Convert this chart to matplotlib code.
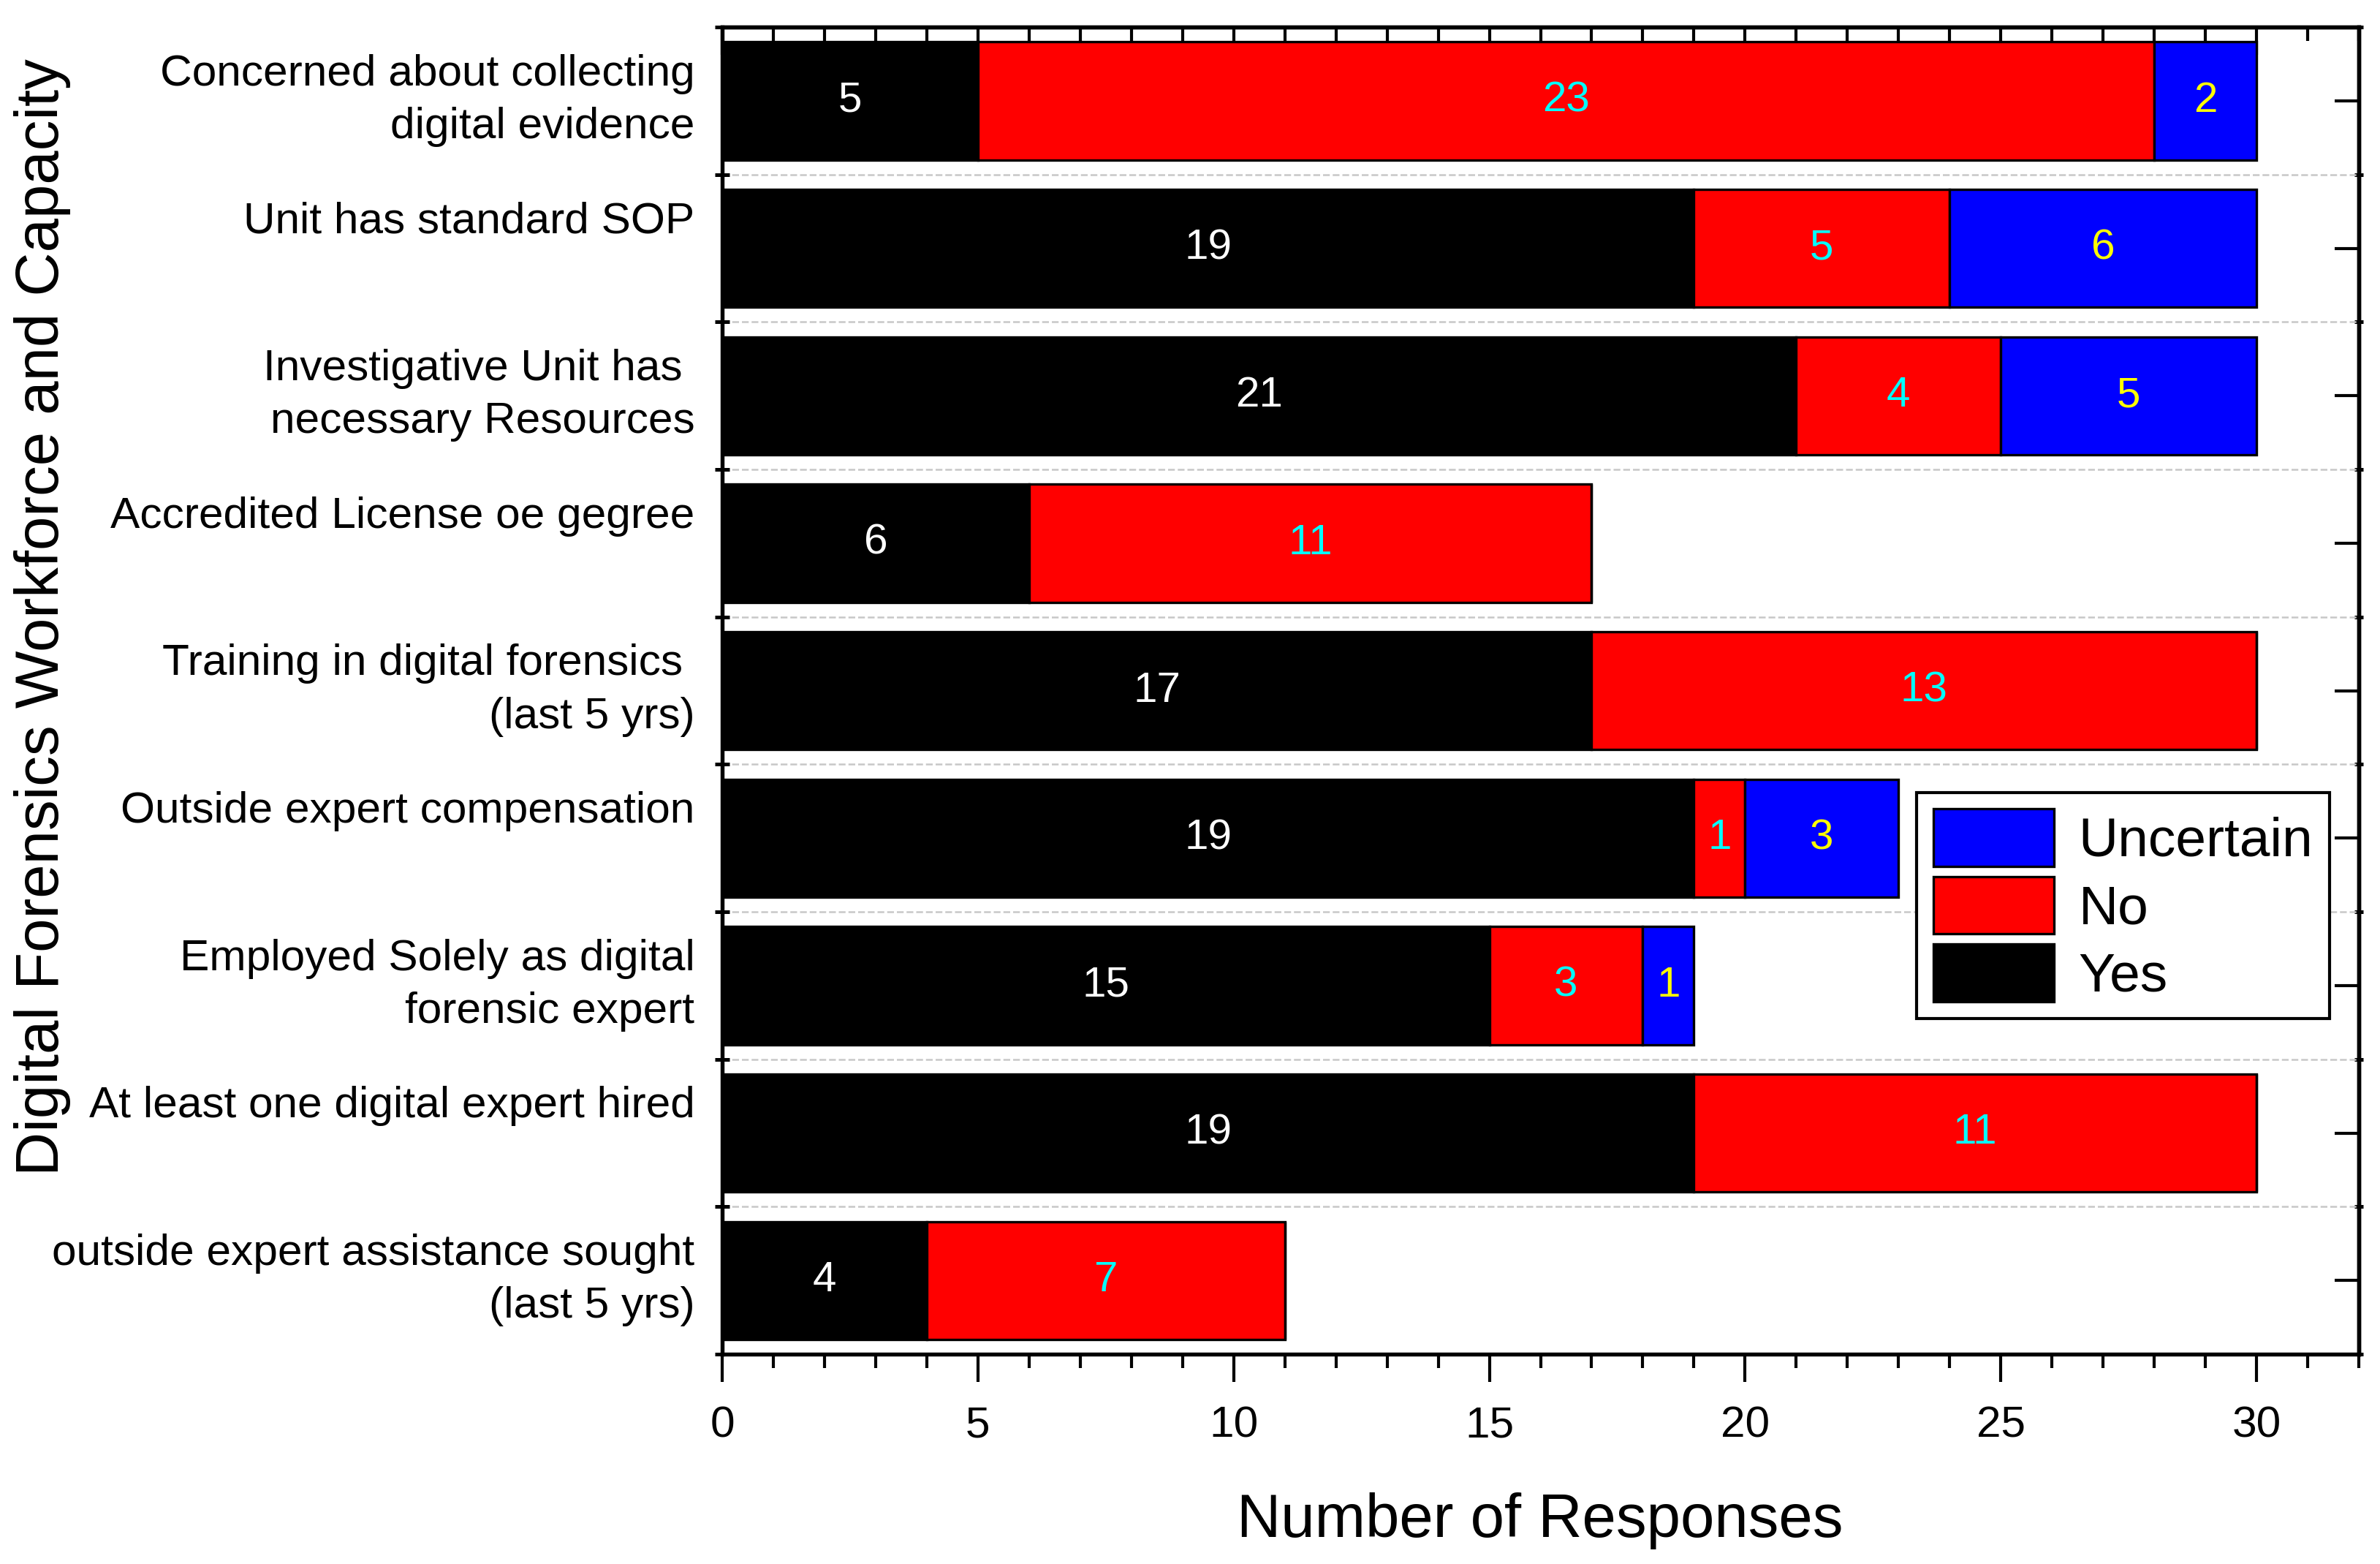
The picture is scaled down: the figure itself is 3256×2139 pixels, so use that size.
import matplotlib
matplotlib.use('Agg')
import matplotlib.pyplot as plt
import numpy as np
from matplotlib.ticker import MultipleLocator, FixedLocator

plt.rcParams['font.family'] = ['Liberation Sans', 'DejaVu Sans']

categories = ['Concerned about collecting\ndigital evidence',
              'Unit has standard SOP\n ',
              'Investigative Unit has \nnecessary Resources',
              'Accredited License oe gegree\n ',
              'Training in digital forensics \n(last 5 yrs)',
              'Outside expert compensation\n ',
              'Employed Solely as digital\nforensic expert',
              'At least one digital expert hired\n ',
              'outside expert assistance sought\n(last 5 yrs)']
yes = [5, 19, 21, 6, 17, 19, 15, 19, 4]
no = [23, 5, 4, 11, 13, 1, 3, 11, 7]
uncertain = [2, 6, 5, 0, 0, 3, 1, 0, 0]

fig = plt.figure(figsize=(3256 / 300, 2139 / 300), dpi=300)
ax = fig.add_axes([988 / 3256, 1 - 1852 / 2139, (3227 - 988) / 3256, (1852 - 37) / 2139])

y = np.arange(len(categories))
yes = np.array(yes)
no = np.array(no)
uncertain = np.array(uncertain)

b_yes = ax.barh(y, yes, height=0.8, color='black', edgecolor='black', lw=0.8, label='Yes', zorder=3)
b_no = ax.barh(y, no, left=yes, height=0.8, color='#ff0000', edgecolor='black', lw=0.8, label='No', zorder=3)
b_unc = ax.barh(y, uncertain, left=yes + no, height=0.8, color='#0000ff', edgecolor='black', lw=0.8,
                label='Uncertain', zorder=3)

for cont, vals, col in [(b_yes, yes, 'white'), (b_no, no, '#00ffff'), (b_unc, uncertain, '#ffff00')]:
    ax.bar_label(cont, labels=[str(v) if v > 0 else '' for v in vals], label_type='center',
                 color=col, fontsize=14)

ax.set_xlim(0, 32)
ax.set_ylim(8.5, -0.5)

# y axis: labels sit a little above the bar centre (Origin style), ticks at the boundaries
ax.set_yticks(y - 0.075)
ax.set_yticklabels(categories, fontsize=14.5, linespacing=1.4)
ax.yaxis.set_minor_locator(FixedLocator(np.arange(-0.5, 9, 1)))
ax.tick_params(axis='y', which='major', length=0, pad=9)
ax.tick_params(axis='y', which='minor', direction='inout', length=5, width=1.2)
ax.grid(which='minor', axis='y', ls='--', color='#c8c8c8', lw=0.6, zorder=0)

ax.xaxis.set_major_locator(MultipleLocator(5))
ax.xaxis.set_minor_locator(MultipleLocator(1))
ax.tick_params(axis='x', which='major', direction='out', length=9, width=1, labelsize=14.5, pad=8)
ax.tick_params(axis='x', which='minor', direction='out', length=4.5, width=1)

for s in ax.spines.values():
    s.set_linewidth(1.3)

top = ax.secondary_xaxis('top')
top.xaxis.set_major_locator(MultipleLocator(5))
top.xaxis.set_minor_locator(MultipleLocator(1))
top.tick_params(which='major', direction='in', length=9, width=1, labeltop=False)
top.tick_params(which='minor', direction='in', length=4.5, width=1)
top.spines['top'].set_linewidth(1.3)

right = ax.secondary_yaxis('right')
right.set_yticks(y)
right.yaxis.set_minor_locator(FixedLocator(np.arange(-0.5, 9, 1)))
right.tick_params(which='major', direction='in', length=8, width=1, labelright=False)
right.tick_params(which='minor', direction='inout', length=3, width=1.2)
right.spines['right'].set_linewidth(1.3)

handles = [b_unc, b_no, b_yes]
ax.legend(handles, ['Uncertain', 'No', 'Yes'], loc='upper left', bbox_to_anchor=(0.730, 0.4233),
          borderaxespad=0, fontsize=18, fancybox=False, edgecolor='black', framealpha=1,
          handlelength=2.2, handleheight=1.24, labelspacing=0.17, borderpad=0.3,
          handletextpad=0.45)

fig.text(2107 / 3256, 1 - 2102 / 2139, 'Number of Responses', fontsize=20, ha='center', va='baseline')
fig.text(80 / 3256, 1 - 844 / 2139, 'Digital Forensics Workforce and Capacity', fontsize=20,
         rotation=90, rotation_mode='anchor', ha='center', va='baseline')

fig.savefig('out.png', dpi=300)
